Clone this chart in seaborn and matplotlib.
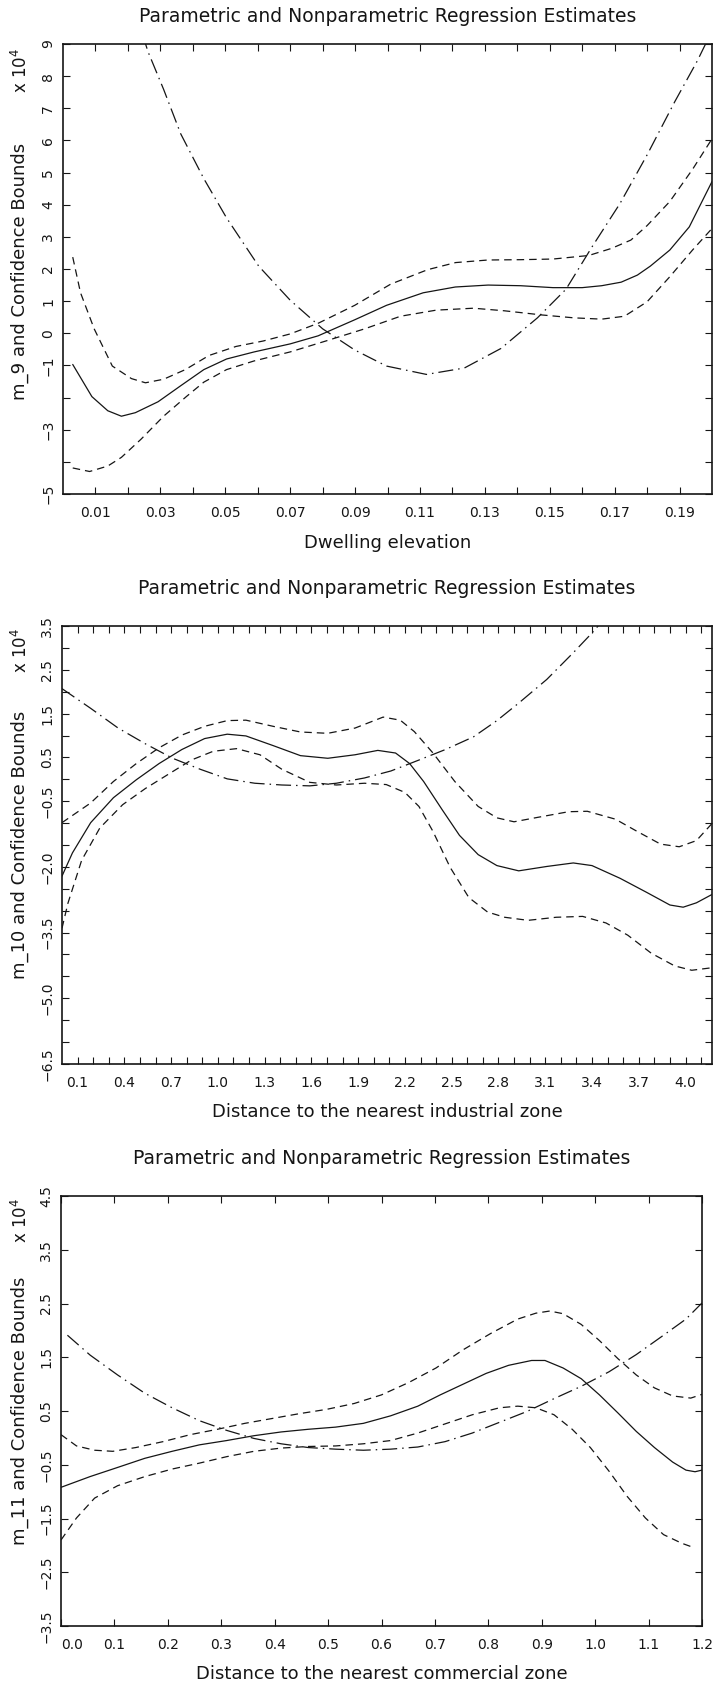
import numpy as np
import pandas as pd
import matplotlib
matplotlib.use("Agg")
import matplotlib.pyplot as plt
import seaborn as sns

sns.set_style("ticks")
plt.rcParams['font.family'] = ['DejaVu Sans']

# ---------------- data (values in units of 10^4) ----------------
title_text = "Parametric and Nonparametric Regression Estimates"

# Panel 1: Dwelling elevation
elev_m_x = [0.003, 0.0089, 0.0138, 0.018, 0.0223, 0.0293, 0.0363, 0.0434, 0.0504, 0.0589, 0.070, 0.0786,
            0.0899, 0.0997, 0.111, 0.1209, 0.131, 0.141, 0.151, 0.160, 0.166, 0.172, 0.177, 0.181, 0.187,
            0.193, 0.200]
elev_m_y = [-0.97, -1.97, -2.41, -2.58, -2.47, -2.13, -1.63, -1.13, -0.80, -0.58, -0.33, -0.08, 0.42, 0.87,
            1.26, 1.44, 1.50, 1.48, 1.42, 1.42, 1.48, 1.59, 1.81, 2.09, 2.59, 3.31, 4.72]
elev_up_x = [0.003, 0.0054, 0.0096, 0.0152, 0.0211, 0.0254, 0.031, 0.0377, 0.045, 0.0533, 0.0617, 0.070,
             0.0786, 0.0899, 0.101, 0.1124, 0.121, 0.131, 0.141, 0.151, 0.162, 0.169, 0.175, 0.180, 0.187,
             0.194, 0.200]
elev_up_y = [2.37, 1.26, 0.14, -1.02, -1.41, -1.54, -1.43, -1.13, -0.69, -0.41, -0.24, -0.02, 0.31, 0.87,
             1.53, 1.98, 2.20, 2.28, 2.29, 2.31, 2.42, 2.64, 2.90, 3.35, 4.10, 5.10, 6.05]
elev_lo_x = [0.003, 0.0082, 0.0138, 0.018, 0.024, 0.031, 0.038, 0.0434, 0.0504, 0.0589, 0.070, 0.081, 0.093,
             0.104, 0.115, 0.1265, 0.136, 0.1476, 0.1575, 0.166, 0.173, 0.180, 0.187, 0.194, 0.200]
elev_lo_y = [-4.19, -4.30, -4.13, -3.86, -3.30, -2.58, -1.97, -1.52, -1.13, -0.86, -0.58, -0.24, 0.14, 0.53,
             0.72, 0.78, 0.70, 0.57, 0.48, 0.44, 0.53, 0.98, 1.76, 2.59, 3.26]
elev_par_x = [0.0245, 0.0262, 0.031, 0.0363, 0.0434, 0.0504, 0.0603, 0.070, 0.080, 0.0899, 0.0997, 0.112,
              0.1237, 0.135, 0.1462, 0.155, 0.1631, 0.1716, 0.180, 0.1885, 0.1955, 0.1985]
elev_par_y = [9.30, 8.76, 7.59, 6.20, 4.81, 3.59, 2.09, 1.03, 0.14, -0.52, -1.02, -1.28, -1.08, -0.47, 0.48,
              1.37, 2.70, 4.03, 5.55, 7.20, 8.48, 9.10]

# Panel 2: Distance to the nearest industrial zone
ind_m_x = [0.0, 0.067, 0.184, 0.33, 0.477, 0.623, 0.769, 0.915, 1.06, 1.18, 1.354, 1.53, 1.705, 1.88, 2.026,
           2.14, 2.23, 2.32, 2.44, 2.55, 2.67, 2.79, 2.93, 3.11, 3.28, 3.40, 3.58, 3.75, 3.90, 3.985, 4.07, 4.175]
ind_m_y = [-2.21, -1.68, -0.99, -0.42, -0.01, 0.36, 0.68, 0.93, 1.03, 0.99, 0.77, 0.54, 0.48, 0.56, 0.66,
           0.60, 0.36, -0.05, -0.70, -1.28, -1.72, -1.97, -2.09, -1.99, -1.91, -1.97, -2.26, -2.58, -2.87,
           -2.92, -2.82, -2.62]
ind_up_x = [0.0, 0.184, 0.33, 0.477, 0.623, 0.769, 0.915, 1.06, 1.18, 1.354, 1.53, 1.705, 1.88, 2.06, 2.17,
            2.26, 2.38, 2.52, 2.67, 2.79, 2.90, 3.05, 3.25, 3.37, 3.55, 3.69, 3.84, 3.96, 4.07, 4.175]
ind_up_y = [-0.99, -0.54, -0.05, 0.36, 0.72, 1.01, 1.21, 1.34, 1.35, 1.21, 1.08, 1.05, 1.17, 1.42, 1.35,
            1.09, 0.60, -0.05, -0.62, -0.88, -0.97, -0.87, -0.74, -0.73, -0.91, -1.19, -1.48, -1.54, -1.40,
            -0.99]
ind_lo_x = [0.0, 0.038, 0.126, 0.243, 0.389, 0.535, 0.68, 0.83, 0.97, 1.12, 1.27, 1.41, 1.59, 1.76, 1.94,
            2.08, 2.20, 2.29, 2.38, 2.49, 2.61, 2.73, 2.84, 2.99, 3.17, 3.34, 3.49, 3.63, 3.78, 3.93, 4.04, 4.175]
ind_lo_y = [-3.40, -2.83, -1.85, -1.11, -0.58, -0.21, 0.11, 0.44, 0.64, 0.70, 0.56, 0.23, -0.07, -0.13,
            -0.09, -0.12, -0.30, -0.62, -1.19, -2.01, -2.70, -3.03, -3.15, -3.22, -3.15, -3.13, -3.28, -3.56,
            -3.97, -4.26, -4.36, -4.30]
ind_par_x = [0.0, 0.184, 0.36, 0.535, 0.71, 0.886, 1.06, 1.237, 1.41, 1.59, 1.76, 1.94, 2.11, 2.29, 2.46,
             2.64, 2.79, 2.93, 3.11, 3.28, 3.40, 3.50]
ind_par_y = [2.07, 1.62, 1.17, 0.81, 0.48, 0.23, 0.01, -0.09, -0.13, -0.15, -0.09, 0.03, 0.19, 0.44, 0.68,
             0.97, 1.34, 1.74, 2.28, 2.89, 3.34, 3.75]

# Panel 3: Distance to the nearest commercial zone
com_m_x = [0.0, 0.0545, 0.106, 0.157, 0.208, 0.259, 0.31, 0.361, 0.412, 0.463, 0.514, 0.566, 0.617, 0.668,
           0.71, 0.753, 0.796, 0.838, 0.881, 0.906, 0.94, 0.974, 1.008, 1.043, 1.077, 1.111, 1.145, 1.17,
           1.187, 1.2]
com_m_y = [-0.92, -0.72, -0.55, -0.38, -0.25, -0.13, -0.05, 0.04, 0.11, 0.16, 0.20, 0.27, 0.41, 0.59, 0.80,
           1.00, 1.20, 1.35, 1.44, 1.44, 1.30, 1.10, 0.80, 0.46, 0.12, -0.18, -0.45, -0.60, -0.63, -0.60]
com_up_x = [0.0, 0.029, 0.063, 0.097, 0.14, 0.191, 0.242, 0.293, 0.344, 0.395, 0.446, 0.497, 0.549, 0.60,
            0.651, 0.702, 0.753, 0.804, 0.855, 0.889, 0.915, 0.94, 0.974, 1.008, 1.043, 1.077, 1.111, 1.145,
            1.179, 1.2]
com_up_y = [0.06, -0.15, -0.23, -0.25, -0.18, -0.07, 0.06, 0.16, 0.27, 0.36, 0.45, 0.53, 0.64, 0.80, 1.03,
            1.30, 1.64, 1.94, 2.21, 2.32, 2.36, 2.31, 2.11, 1.81, 1.47, 1.17, 0.93, 0.78, 0.74, 0.81]
com_lo_x = [0.0, 0.029, 0.063, 0.106, 0.157, 0.208, 0.259, 0.31, 0.361, 0.412, 0.463, 0.514, 0.566, 0.617,
            0.668, 0.719, 0.77, 0.821, 0.855, 0.889, 0.923, 0.957, 0.991, 1.026, 1.06, 1.094, 1.128, 1.162,
            1.187]
com_lo_y = [-1.90, -1.49, -1.12, -0.89, -0.72, -0.58, -0.47, -0.35, -0.25, -0.19, -0.16, -0.15, -0.11,
            -0.05, 0.09, 0.26, 0.43, 0.56, 0.59, 0.56, 0.43, 0.16, -0.18, -0.62, -1.09, -1.49, -1.80, -1.96,
            -2.05]
com_par_x = [0.012, 0.0545, 0.106, 0.157, 0.208, 0.259, 0.31, 0.361, 0.412, 0.463, 0.514, 0.566, 0.617,
             0.668, 0.719, 0.77, 0.821, 0.872, 0.923, 0.974, 1.026, 1.077, 1.128, 1.17, 1.2]
com_par_y = [1.91, 1.54, 1.17, 0.83, 0.56, 0.32, 0.14, -0.01, -0.11, -0.18, -0.21, -0.23, -0.21, -0.17,
             -0.07, 0.09, 0.29, 0.49, 0.73, 0.96, 1.23, 1.55, 1.91, 2.21, 2.51]

# ticks
elev_xticks = [0.01 * i for i in range(1, 20)]
elev_xlabels = ["0.%02d" % i if i % 2 == 1 else "" for i in range(1, 20)]
elev_yticks = list(range(-5, 10))
elev_ylabels = {9: "9", 8: "8", 7: "7", 6: "6", 5: "5", 4: "4", 3: "3", 2: "2", 1: "1", 0: "0",
                -1: "\u22121", -3: "\u22123", -5: "\u22125"}

ind_xticks = [0.1 * i for i in range(1, 42)]
ind_xlabels = ["%.1f" % (0.1 * i) if (i - 1) % 3 == 0 else "" for i in range(1, 42)]
ind_yticks = [-6.5 + 0.5 * i for i in range(21)]
ind_ylab_vals = [3.5, 2.5, 1.5, 0.5, -0.5, -2.0, -3.5, -5.0, -6.5]

com_xticks = [0.1 * i for i in range(13)]
com_xlabels = ["%.1f" % (0.1 * i) for i in range(13)]
com_yticks = [-3.5, -2.5, -1.5, -0.5, 0.5, 1.5, 2.5, 3.5, 4.5]

# ---------------- figure ----------------
W, H = 713, 1688
fig = plt.figure(figsize=(W / 100, H / 100), dpi=100)
fig.patch.set_facecolor("white")

def rect(l, t, r, b):
    return [l / W, 1 - b / H, (r - l) / W, (b - t) / H]

def fmt(v):
    s = "%.1f" % v
    return s.replace("-", "\u2212")

INK = "#151515"
DASH = (0, (6.0, 4.0))
DASHDOT = (0, (12.0, 4.0, 1.2, 4.0))

panels = [
    dict(rect=(63, 44, 712, 494), xlim=(0.0, 0.2), ylim=(-5, 9),
         series=[(elev_m_x, elev_m_y, "-"), (elev_up_x, elev_up_y, DASH), (elev_lo_x, elev_lo_y, DASH),
                 (elev_par_x, elev_par_y, DASHDOT)],
         xticks=elev_xticks, xlabels=elev_xlabels, yticks=elev_yticks,
         ylabels=[elev_ylabels.get(v, "") for v in elev_yticks],
         xlabel="Dwelling elevation", ylabel="m_9 and Confidence Bounds",
         title_y=16, xlabel_y=543, ylabel_y=271, exp_y=70),
    dict(rect=(62, 626, 712, 1064), xlim=(0.0, 4.17), ylim=(-6.5, 3.5),
         series=[(ind_m_x, ind_m_y, "-"), (ind_up_x, ind_up_y, DASH), (ind_lo_x, ind_lo_y, DASH),
                 (ind_par_x, ind_par_y, DASHDOT)],
         xticks=ind_xticks, xlabels=ind_xlabels, yticks=ind_yticks,
         ylabels=[fmt(v) if any(abs(v - u) < 1e-9 for u in ind_ylab_vals) else "" for v in ind_yticks],
         xlabel="Distance to the nearest industrial zone", ylabel="m_10 and Confidence Bounds",
         title_y=589, xlabel_y=1112, ylabel_y=845, exp_y=650),
    dict(rect=(61, 1196, 702, 1626), xlim=(0.0, 1.2), ylim=(-3.5, 4.5),
         series=[(com_m_x, com_m_y, "-"), (com_up_x, com_up_y, DASH), (com_lo_x, com_lo_y, DASH),
                 (com_par_x, com_par_y, DASHDOT)],
         xticks=com_xticks, xlabels=com_xlabels, yticks=com_yticks,
         ylabels=[fmt(v) for v in com_yticks],
         xlabel="Distance to the nearest commercial zone", ylabel="m_11 and Confidence Bounds",
         title_y=1158, xlabel_y=1674, ylabel_y=1411, exp_y=1220),
]

for i, p in enumerate(panels):
    ax = fig.add_axes(rect(*p["rect"]))
    for xs, ys, ls in p["series"]:
        df = pd.DataFrame({"x": xs, "y": ys})
        sns.lineplot(data=df, x="x", y="y", ax=ax, color=INK, linewidth=0.9,
                     linestyle=ls, estimator=None, sort=False)
    ax.set_xlim(*p["xlim"])
    ax.set_ylim(*p["ylim"])
    ax.set_xticks(p["xticks"])
    ax.set_xticklabels(p["xlabels"])
    ax.set_yticks(p["yticks"])
    ax.set_yticklabels(p["ylabels"], rotation=90, va="center")
    ax.tick_params(axis="both", direction="in", length=5, width=0.8, top=True, right=True,
                   labelsize=10, colors=INK)
    ax.tick_params(axis="x", pad=8.6)
    ax.tick_params(axis="y", pad=5.5)
    for s in ax.spines.values():
        s.set_linewidth(1.2)
        s.set_color(INK)
    ax.set_xlabel("")
    ax.set_ylabel("")
    l, t, r, b = p["rect"]
    cx = (l + r) / 2 / W
    fig.text(cx, 1 - p["title_y"] / H, title_text, ha="center", va="center", fontsize=13.5, color=INK)
    fig.text(cx, 1 - p["xlabel_y"] / H, p["xlabel"], ha="center", va="center", fontsize=13, color=INK)
    fig.text(20 / W, 1 - p["ylabel_y"] / H, p["ylabel"], ha="center", va="center", rotation=90,
             fontsize=13, color=INK)
    fig.text(21 / W, 1 - p["exp_y"] / H, "x 10$^4$", ha="center", va="center", rotation=90,
             fontsize=12, color=INK)
    if i == 2:
        first = ax.get_xticklabels()[0]
        first.set_ha("left")

fig.savefig("out.png", dpi=100, facecolor="white")
